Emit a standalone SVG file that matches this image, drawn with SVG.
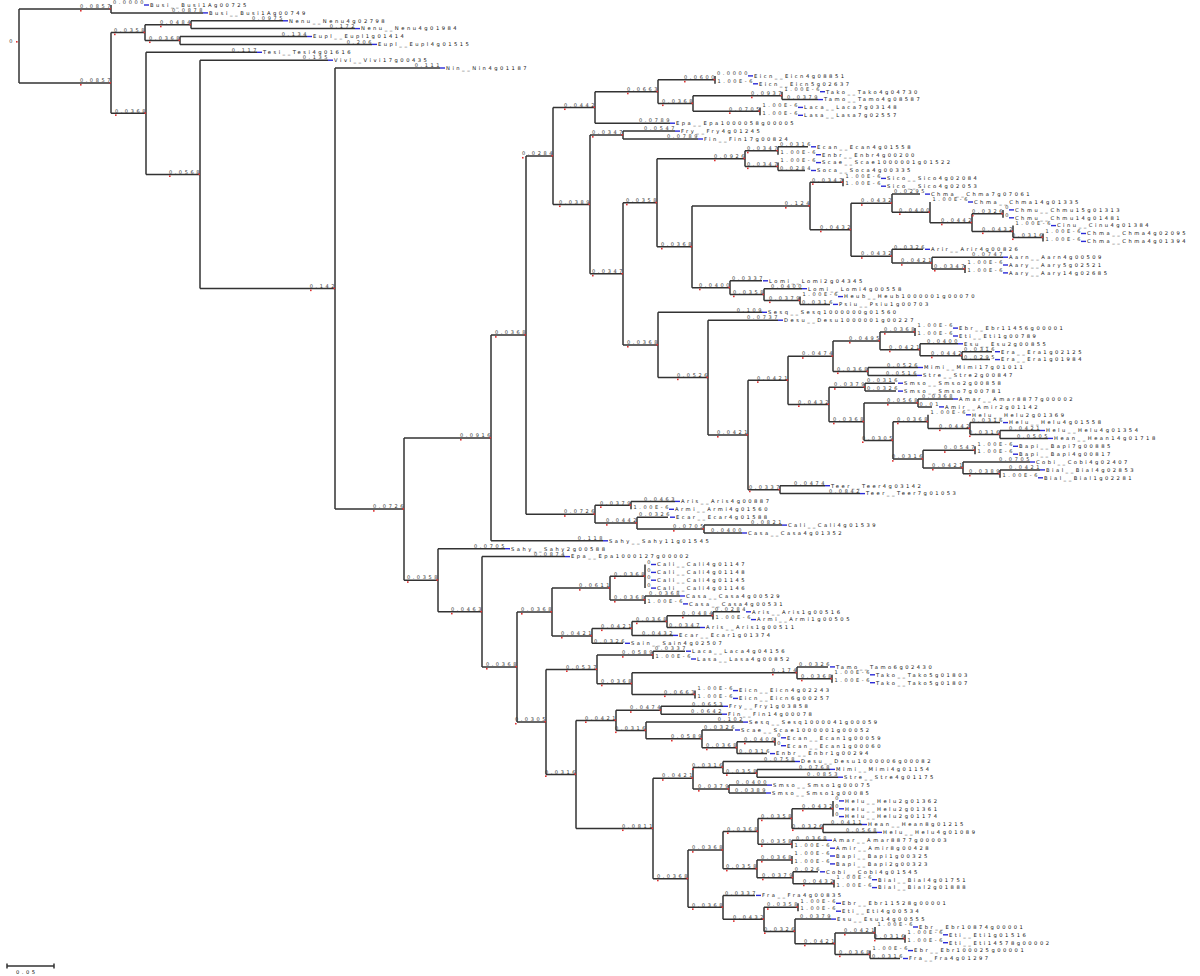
<svg xmlns="http://www.w3.org/2000/svg" xmlns:xlink="http://www.w3.org/1999/xlink" width="1200" height="976" viewBox="0 0 1200 976">
<style>
.c path{fill:none;stroke:#333;stroke-width:1.5}
.b{font-family:"DejaVu Sans","Liberation Sans",sans-serif;font-size:5px;letter-spacing:2.6px;fill:#333;text-anchor:end}
.n{font-family:"DejaVu Sans","Liberation Sans",sans-serif;font-size:5.2px;letter-spacing:2.5px;fill:#111}
</style>
<defs>
<path id="dash" d="M0 0h5" stroke="#2a2ad6" stroke-width="1.4"/>
<rect id="rd" width="1.6" height="1.6" fill="#d33"/>
</defs>
<rect width="1200" height="976" fill="#fff"/>
<g id="connectors" class="c">
<path d="M19 8.95V83"/>
<path d="M19 8.95H111M111 5V12.9"/>
<path d="M19 83H111M111 32.6V113.35"/>
<path d="M111 32.6H145M145 24.7V40.45"/>
<path d="M145 24.7H191M191 20.8V28.6"/>
<path d="M145 40.45H180M180 36.5V44.4"/>
<path d="M111 113.35H146M146 52.3V174.4"/>
<path d="M146 174.4H200M200 60.2V288.55"/>
<path d="M200 288.55H335M335 68V509.1"/>
<path d="M335 509.1H404M404 437.95V580.25"/>
<path d="M404 437.95H491M491 335.1V540.8"/>
<path d="M491 335.1H526M526 155.95V514.2"/>
<path d="M526 155.95H553M553 107.45V204.45"/>
<path d="M553 107.45H595M595 91.7V123.2"/>
<path d="M595 91.7H658M658 79.85V103.5"/>
<path d="M658 79.85H715M715 75.9V83.8"/>
<path d="M658 103.5H693M693 95.65V111.35"/>
<path d="M693 95.65H782M782 91.7V99.6"/>
<path d="M693 111.35H760M760 107.4V115.3"/>
<path d="M553 204.45H590M590 135.05V273.85"/>
<path d="M590 135.05H623M623 131.1V139"/>
<path d="M590 273.85H623M623 202.75V344.95"/>
<path d="M623 202.75H657M657 158.65V246.85"/>
<path d="M657 158.65H745M745 150.75V166.55"/>
<path d="M745 150.75H778M778 146.8V154.7"/>
<path d="M745 166.55H778M778 162.6V170.5"/>
<path d="M657 246.85H692M692 206V287.7"/>
<path d="M692 206H810M810 182.3V229.7"/>
<path d="M810 182.3H843M843 178.4V186.2"/>
<path d="M810 229.7H851M851 203.2V256.2"/>
<path d="M851 203.2H892M892 194.1V212.35"/>
<path d="M892 212.35H930M930 202V222.7"/>
<path d="M930 222.7H972M972 213.85V231.5"/>
<path d="M972 213.85H1003M1003 209.9V217.8"/>
<path d="M972 231.5H1013M1013 225.6V237.45"/>
<path d="M1013 237.45H1043M1043 233.5V241.4"/>
<path d="M851 256.2H892M892 249.3V263.1"/>
<path d="M892 263.1H932M932 257.2V268.95"/>
<path d="M932 268.95H965M965 265V272.9"/>
<path d="M692 287.7H730M730 280.8V294.6"/>
<path d="M730 294.6H764M764 288.7V300.5"/>
<path d="M764 300.5H800M800 296.6V304.4"/>
<path d="M623 344.95H658M658 312.3V377.6"/>
<path d="M658 377.6H708M708 320.2V435"/>
<path d="M708 435H748M748 380.3V489.65"/>
<path d="M748 380.3H788M788 356.2V404.4"/>
<path d="M788 356.2H833M833 340.9V371.45"/>
<path d="M833 340.9H880M880 332.05V349.7"/>
<path d="M880 332.05H915M915 328.1V336"/>
<path d="M880 349.7H920M920 343.8V355.65"/>
<path d="M920 355.65H962M962 351.7V359.6"/>
<path d="M833 371.45H868M868 367.5V375.4"/>
<path d="M788 404.4H829M829 387.15V421.7"/>
<path d="M829 387.15H865M865 383.2V391.1"/>
<path d="M829 421.7H864M864 402.95V440.4"/>
<path d="M864 402.95H918M918 399V406.9"/>
<path d="M864 440.4H893M893 421.65V459.1"/>
<path d="M893 421.65H928M928 414.8V428.5"/>
<path d="M928 428.5H970M970 422.6V434.45"/>
<path d="M970 434.45H1000M1000 430.5V438.4"/>
<path d="M893 459.1H923M923 450.25V467.9"/>
<path d="M923 450.25H975M975 446.3V454.2"/>
<path d="M923 467.9H963M963 462V473.85"/>
<path d="M963 473.85H1000M1000 469.9V477.8"/>
<path d="M748 489.65H780M780 485.7V493.6"/>
<path d="M526 514.2H595M595 505.35V523.1"/>
<path d="M595 505.35H631M631 501.4V509.3"/>
<path d="M595 523.1H637M637 517.2V529.05"/>
<path d="M637 529.05H704M704 525.1V533"/>
<path d="M404 580.25H438M438 548.7V611.8"/>
<path d="M438 611.8H482M482 556.6V666.95"/>
<path d="M482 666.95H517M517 612V721.9"/>
<path d="M517 612H552M552 588.1V635.9"/>
<path d="M552 588.1H610M610 576.3V599.95"/>
<path d="M610 576.3H645M645 564.5V588.1"/>
<path d="M610 599.95H645M645 596V603.9"/>
<path d="M552 635.9H592M592 628.5V643.3"/>
<path d="M592 628.5H632M632 621.6V635.4"/>
<path d="M632 621.6H667M667 615.7V627.5"/>
<path d="M667 615.7H713M713 611.8V619.6"/>
<path d="M517 721.9H546M546 669.4V774.4"/>
<path d="M546 669.4H597M597 655.1V683.65"/>
<path d="M597 655.1H653M653 651.2V659"/>
<path d="M597 683.65H632M632 672.8V694.5"/>
<path d="M632 672.8H797M797 666.9V678.75"/>
<path d="M797 678.75H832M832 674.8V682.7"/>
<path d="M632 694.5H695M695 690.6V698.4"/>
<path d="M546 774.4H576M576 720.4V828.45"/>
<path d="M576 720.4H616M616 710.25V730.5"/>
<path d="M616 710.25H661M661 706.3V714.2"/>
<path d="M616 730.5H646M646 722.1V738.85"/>
<path d="M646 738.85H702M702 730V747.7"/>
<path d="M702 747.7H737M737 741.75V753.6"/>
<path d="M737 741.75H775M775 737.8V745.7"/>
<path d="M576 828.45H653M653 778.2V878.7"/>
<path d="M653 778.2H693M693 767.4V789.05"/>
<path d="M693 767.4H723M723 761.5V773.3"/>
<path d="M723 773.3H757M757 769.4V777.2"/>
<path d="M693 789.05H729M729 785.1V793"/>
<path d="M653 878.7H688M688 850.1V907.35"/>
<path d="M688 850.1H723M723 831.4V868.8"/>
<path d="M723 831.4H758M758 818.6V844.25"/>
<path d="M758 818.6H792M792 808.75V828.45"/>
<path d="M792 808.75H833M833 800.9V816.6"/>
<path d="M792 828.45H823M823 824.5V832.4"/>
<path d="M758 844.25H792M792 840.3V848.2"/>
<path d="M723 868.8H757M757 859.95V877.7"/>
<path d="M757 859.95H792M792 856V863.9"/>
<path d="M757 877.7H793M793 871.8V883.65"/>
<path d="M793 883.65H834M834 879.7V887.6"/>
<path d="M688 907.35H723M723 895.4V919.3"/>
<path d="M723 919.3H764M764 907.25V931.4"/>
<path d="M764 907.25H798M798 903.3V911.2"/>
<path d="M764 931.4H795M795 919.1V943.7"/>
<path d="M795 943.7H835M835 932.9V954.55"/>
<path d="M835 932.9H875M875 927V938.75"/>
<path d="M875 938.75H905M905 934.8V942.7"/>
<path d="M835 954.55H870M870 950.6V958.5"/>
<path d="M111 12.9H203M191 20.8H283M191 28.6H355M180 36.5H307M180 44.4H372M146 52.3H257M200 60.2H328M335 68H440"/>
<path d="M782 99.6H818M595 123.2H670M623 131.1H675M623 139H698M778 146.8H808M778 170.5H805M892 194.1H920"/>
<path d="M892 249.3H923M932 257.2H1003M730 280.8H762M764 288.7H802M800 304.4H830M658 312.3H762M708 320.2H778"/>
<path d="M920 343.8H958M962 351.7H992M962 359.6H990M868 367.5H918M868 375.4H917M865 383.2H895M865 391.1H896M918 399H953M918 406.9H932"/>
<path d="M970 422.6H1000M1000 430.5H1040M1000 438.4H1048M963 462H1030M1000 469.9H1040M780 485.7H825M780 493.6H860"/>
<path d="M631 501.4H675M637 517.2H668M704 525.1H782M704 533H742M491 540.8H603M438 548.7H505M482 556.6H565"/>
<path d="M645 596H680M713 611.8H740M667 627.5H700M632 635.4H673M592 643.3H623M653 651.2H685M797 666.9H828"/>
<path d="M661 706.3H723M661 714.2H722M646 722.1H743M702 730H733M737 753.6H767M723 761.5H795M757 769.4H830M757 777.2H838M729 785.1H767M729 793H766"/>
<path d="M823 824.5H862M823 832.4H877M792 840.3H827M793 871.8H818M723 895.4H755M795 919.1H831M870 958.5H900"/>
<path d="M7 966H54M7 963.5V968.5M54 963.5V968.5"/>
</g>
<g id="internal-nodes">
<g id="n-root"><text class="b" x="15" y="43">0</text><use href="#rd" x="16" y="41"/></g>
<g id="n-A" transform="translate(111,8.95)"><text class="b" x="2" y="-.8">0.0857</text><use href="#rd" x="-31" y="1"/><use href="#rd" x="-1.6" y="-1"/></g>
<g id="n-B" transform="translate(111,83)"><text class="b" x="2" y="-.8">0.0857</text><use href="#rd" x="-31" y="1"/><use href="#rd" x="-1.6" y="-1"/></g>
<g id="n-C" transform="translate(145,32.6)"><text class="b" x="2" y="-.8">0.0358</text><use href="#rd" x="-31" y="1"/><use href="#rd" x="-1.6" y="-1"/></g>
<g id="n-C1" transform="translate(191,24.7)"><text class="b" x="2" y="-.8">0.0484</text><use href="#rd" x="-31" y="1"/><use href="#rd" x="-1.6" y="-1"/></g>
<g id="n-C2" transform="translate(180,40.45)"><text class="b" x="2" y="-.8">0.0368</text><use href="#rd" x="-31" y="1"/><use href="#rd" x="-1.6" y="-1"/></g>
<g id="n-D" transform="translate(146,113.35)"><text class="b" x="2" y="-.8">0.0368</text><use href="#rd" x="-31" y="1"/><use href="#rd" x="-1.6" y="-1"/></g>
<g id="n-E" transform="translate(200,174.4)"><text class="b" x="2" y="-.8">0.0568</text><use href="#rd" x="-31" y="1"/><use href="#rd" x="-1.6" y="-1"/></g>
<g id="n-F" transform="translate(335,288.55)"><text class="b" x="2" y="-.8">0.142</text><use href="#rd" x="-25" y="1"/><use href="#rd" x="-1.6" y="-1"/></g>
<g id="n-G" transform="translate(404,509.1)"><text class="b" x="2" y="-.8">0.0726</text><use href="#rd" x="-31" y="1"/><use href="#rd" x="-1.6" y="-1"/></g>
<g id="n-H" transform="translate(491,437.95)"><text class="b" x="2" y="-.8">0.0916</text><use href="#rd" x="-31" y="1"/><use href="#rd" x="-1.6" y="-1"/></g>
<g id="n-I" transform="translate(526,335.1)"><text class="b" x="2" y="-.8">0.0368</text><use href="#rd" x="-31" y="1"/><use href="#rd" x="-1.6" y="-1"/></g>
<g id="n-J" transform="translate(553,155.95)"><text class="b" x="2" y="-.8">0.0284</text><use href="#rd" x="-31" y="1"/><use href="#rd" x="-1.6" y="-1"/></g>
<g id="n-J1" transform="translate(595,107.45)"><text class="b" x="2" y="-.8">0.0442</text><use href="#rd" x="-31" y="1"/><use href="#rd" x="-1.6" y="-1"/></g>
<g id="n-J1a" transform="translate(658,91.7)"><text class="b" x="2" y="-.8">0.0663</text><use href="#rd" x="-31" y="1"/><use href="#rd" x="-1.6" y="-1"/></g>
<g id="n-J1a1" transform="translate(715,79.85)"><text class="b" x="2" y="-.8">0.0600</text><use href="#rd" x="-31" y="1"/><use href="#rd" x="-1.6" y="-1"/></g>
<g id="n-J1a2" transform="translate(693,103.5)"><text class="b" x="2" y="-.8">0.0368</text><use href="#rd" x="-31" y="1"/><use href="#rd" x="-1.6" y="-1"/></g>
<g id="n-J1a3" transform="translate(782,95.65)"><text class="b" x="2" y="-.8">0.0937</text><use href="#rd" x="-31" y="1"/><use href="#rd" x="-1.6" y="-1"/></g>
<g id="n-J1a4" transform="translate(760,111.35)"><text class="b" x="2" y="-.8">0.0705</text><use href="#rd" x="-31" y="1"/><use href="#rd" x="-1.6" y="-1"/></g>
<g id="n-J2" transform="translate(590,204.45)"><text class="b" x="2" y="-.8">0.0389</text><use href="#rd" x="-31" y="1"/><use href="#rd" x="-1.6" y="-1"/></g>
<g id="n-J2a" transform="translate(623,135.05)"><text class="b" x="2" y="-.8">0.0347</text><use href="#rd" x="-31" y="1"/><use href="#rd" x="-1.6" y="-1"/></g>
<g id="n-NX" transform="translate(623,273.85)"><text class="b" x="2" y="-.8">0.0347</text><use href="#rd" x="-31" y="1"/><use href="#rd" x="-1.6" y="-1"/></g>
<g id="n-NA" transform="translate(657,202.75)"><text class="b" x="2" y="-.8">0.0358</text><use href="#rd" x="-31" y="1"/><use href="#rd" x="-1.6" y="-1"/></g>
<g id="n-NB" transform="translate(745,158.65)"><text class="b" x="2" y="-.8">0.0926</text><use href="#rd" x="-31" y="1"/><use href="#rd" x="-1.6" y="-1"/></g>
<g id="n-NB1" transform="translate(778,150.75)"><text class="b" x="2" y="-.8">0.0347</text><use href="#rd" x="-31" y="1"/><use href="#rd" x="-1.6" y="-1"/></g>
<g id="n-NB2" transform="translate(778,166.55)"><text class="b" x="2" y="-.8">0.0347</text><use href="#rd" x="-31" y="1"/><use href="#rd" x="-1.6" y="-1"/></g>
<g id="n-NC" transform="translate(692,246.85)"><text class="b" x="2" y="-.8">0.0368</text><use href="#rd" x="-31" y="1"/><use href="#rd" x="-1.6" y="-1"/></g>
<g id="n-ND" transform="translate(810,206)"><text class="b" x="2" y="-.8">0.124</text><use href="#rd" x="-25" y="1"/><use href="#rd" x="-1.6" y="-1"/></g>
<g id="n-NE" transform="translate(843,182.3)"><text class="b" x="2" y="-.8">0.0347</text><use href="#rd" x="-31" y="1"/><use href="#rd" x="-1.6" y="-1"/></g>
<g id="n-NF" transform="translate(851,229.7)"><text class="b" x="2" y="-.8">0.0432</text><use href="#rd" x="-31" y="1"/><use href="#rd" x="-1.6" y="-1"/></g>
<g id="n-NG" transform="translate(892,203.2)"><text class="b" x="2" y="-.8">0.0432</text><use href="#rd" x="-31" y="1"/><use href="#rd" x="-1.6" y="-1"/></g>
<g id="n-NH" transform="translate(930,212.35)"><text class="b" x="2" y="-.8">0.0400</text><use href="#rd" x="-31" y="1"/><use href="#rd" x="-1.6" y="-1"/></g>
<g id="n-NI" transform="translate(972,222.7)"><text class="b" x="2" y="-.8">0.0442</text><use href="#rd" x="-31" y="1"/><use href="#rd" x="-1.6" y="-1"/></g>
<g id="n-NJ" transform="translate(1003,213.85)"><text class="b" x="2" y="-.8">0.0326</text><use href="#rd" x="-31" y="1"/><use href="#rd" x="-1.6" y="-1"/></g>
<g id="n-NK" transform="translate(1013,231.5)"><text class="b" x="2" y="-.8">0.0432</text><use href="#rd" x="-31" y="1"/><use href="#rd" x="-1.6" y="-1"/></g>
<g id="n-NL" transform="translate(1043,237.45)"><text class="b" x="2" y="-.8">0.0316</text><use href="#rd" x="-31" y="1"/><use href="#rd" x="-1.6" y="-1"/></g>
<g id="n-NM" transform="translate(892,256.2)"><text class="b" x="2" y="-.8">0.0432</text><use href="#rd" x="-31" y="1"/><use href="#rd" x="-1.6" y="-1"/></g>
<g id="n-NN" transform="translate(932,263.1)"><text class="b" x="2" y="-.8">0.0421</text><use href="#rd" x="-31" y="1"/><use href="#rd" x="-1.6" y="-1"/></g>
<g id="n-NO" transform="translate(965,268.95)"><text class="b" x="2" y="-.8">0.0347</text><use href="#rd" x="-31" y="1"/><use href="#rd" x="-1.6" y="-1"/></g>
<g id="n-NP" transform="translate(730,287.7)"><text class="b" x="2" y="-.8">0.0400</text><use href="#rd" x="-31" y="1"/><use href="#rd" x="-1.6" y="-1"/></g>
<g id="n-NQ" transform="translate(764,294.6)"><text class="b" x="2" y="-.8">0.0358</text><use href="#rd" x="-31" y="1"/><use href="#rd" x="-1.6" y="-1"/></g>
<g id="n-NR" transform="translate(800,300.5)"><text class="b" x="2" y="-.8">0.0379</text><use href="#rd" x="-31" y="1"/><use href="#rd" x="-1.6" y="-1"/></g>
<g id="n-S0" transform="translate(658,344.95)"><text class="b" x="2" y="-.8">0.0368</text><use href="#rd" x="-31" y="1"/><use href="#rd" x="-1.6" y="-1"/></g>
<g id="n-P1" transform="translate(708,377.6)"><text class="b" x="2" y="-.8">0.0526</text><use href="#rd" x="-31" y="1"/><use href="#rd" x="-1.6" y="-1"/></g>
<g id="n-P2" transform="translate(748,435)"><text class="b" x="2" y="-.8">0.0421</text><use href="#rd" x="-31" y="1"/><use href="#rd" x="-1.6" y="-1"/></g>
<g id="n-P3" transform="translate(788,380.3)"><text class="b" x="2" y="-.8">0.0421</text><use href="#rd" x="-31" y="1"/><use href="#rd" x="-1.6" y="-1"/></g>
<g id="n-P4" transform="translate(833,356.2)"><text class="b" x="2" y="-.8">0.0474</text><use href="#rd" x="-31" y="1"/><use href="#rd" x="-1.6" y="-1"/></g>
<g id="n-P5" transform="translate(880,340.9)"><text class="b" x="2" y="-.8">0.0495</text><use href="#rd" x="-31" y="1"/><use href="#rd" x="-1.6" y="-1"/></g>
<g id="n-P6" transform="translate(915,332.05)"><text class="b" x="2" y="-.8">0.0368</text><use href="#rd" x="-31" y="1"/><use href="#rd" x="-1.6" y="-1"/></g>
<g id="n-P7" transform="translate(920,349.7)"><text class="b" x="2" y="-.8">0.0421</text><use href="#rd" x="-31" y="1"/><use href="#rd" x="-1.6" y="-1"/></g>
<g id="n-P8" transform="translate(962,355.65)"><text class="b" x="2" y="-.8">0.0442</text><use href="#rd" x="-31" y="1"/><use href="#rd" x="-1.6" y="-1"/></g>
<g id="n-P9" transform="translate(868,371.45)"><text class="b" x="2" y="-.8">0.0368</text><use href="#rd" x="-31" y="1"/><use href="#rd" x="-1.6" y="-1"/></g>
<g id="n-P10" transform="translate(829,404.4)"><text class="b" x="2" y="-.8">0.0432</text><use href="#rd" x="-31" y="1"/><use href="#rd" x="-1.6" y="-1"/></g>
<g id="n-PS" transform="translate(865,387.15)"><text class="b" x="2" y="-.8">0.0379</text><use href="#rd" x="-31" y="1"/><use href="#rd" x="-1.6" y="-1"/></g>
<g id="n-Q1" transform="translate(864,421.7)"><text class="b" x="2" y="-.8">0.0368</text><use href="#rd" x="-31" y="1"/><use href="#rd" x="-1.6" y="-1"/></g>
<g id="n-Q2" transform="translate(918,402.95)"><text class="b" x="2" y="-.8">0.0568</text><use href="#rd" x="-31" y="1"/><use href="#rd" x="-1.6" y="-1"/></g>
<g id="n-Q3" transform="translate(893,440.4)"><text class="b" x="2" y="-.8">0.0305</text><use href="#rd" x="-31" y="1"/><use href="#rd" x="-1.6" y="-1"/></g>
<g id="n-Q4" transform="translate(928,421.65)"><text class="b" x="2" y="-.8">0.0368</text><use href="#rd" x="-31" y="1"/><use href="#rd" x="-1.6" y="-1"/></g>
<g id="n-Q6" transform="translate(970,428.5)"><text class="b" x="2" y="-.8">0.0442</text><use href="#rd" x="-31" y="1"/><use href="#rd" x="-1.6" y="-1"/></g>
<g id="n-Q6b" transform="translate(1000,434.45)"><text class="b" x="2" y="-.8">0.0316</text><use href="#rd" x="-31" y="1"/><use href="#rd" x="-1.6" y="-1"/></g>
<g id="n-Q7" transform="translate(923,459.1)"><text class="b" x="2" y="-.8">0.0316</text><use href="#rd" x="-31" y="1"/><use href="#rd" x="-1.6" y="-1"/></g>
<g id="n-QB" transform="translate(975,450.25)"><text class="b" x="2" y="-.8">0.0547</text><use href="#rd" x="-31" y="1"/><use href="#rd" x="-1.6" y="-1"/></g>
<g id="n-R1" transform="translate(963,467.9)"><text class="b" x="2" y="-.8">0.0421</text><use href="#rd" x="-31" y="1"/><use href="#rd" x="-1.6" y="-1"/></g>
<g id="n-RB" transform="translate(1000,473.85)"><text class="b" x="2" y="-.8">0.0389</text><use href="#rd" x="-31" y="1"/><use href="#rd" x="-1.6" y="-1"/></g>
<g id="n-PT" transform="translate(780,489.65)"><text class="b" x="2" y="-.8">0.0337</text><use href="#rd" x="-31" y="1"/><use href="#rd" x="-1.6" y="-1"/></g>
<g id="n-K" transform="translate(595,514.2)"><text class="b" x="2" y="-.8">0.0726</text><use href="#rd" x="-31" y="1"/><use href="#rd" x="-1.6" y="-1"/></g>
<g id="n-K1" transform="translate(631,505.35)"><text class="b" x="2" y="-.8">0.0379</text><use href="#rd" x="-31" y="1"/><use href="#rd" x="-1.6" y="-1"/></g>
<g id="n-K2" transform="translate(637,523.1)"><text class="b" x="2" y="-.8">0.0442</text><use href="#rd" x="-31" y="1"/><use href="#rd" x="-1.6" y="-1"/></g>
<g id="n-K3" transform="translate(704,529.05)"><text class="b" x="2" y="-.8">0.0705</text><use href="#rd" x="-31" y="1"/><use href="#rd" x="-1.6" y="-1"/></g>
<g id="n-Ln" transform="translate(438,580.25)"><text class="b" x="2" y="-.8">0.0358</text><use href="#rd" x="-31" y="1"/><use href="#rd" x="-1.6" y="-1"/></g>
<g id="n-M" transform="translate(482,611.8)"><text class="b" x="2" y="-.8">0.0463</text><use href="#rd" x="-31" y="1"/><use href="#rd" x="-1.6" y="-1"/></g>
<g id="n-N" transform="translate(517,666.95)"><text class="b" x="2" y="-.8">0.0368</text><use href="#rd" x="-31" y="1"/><use href="#rd" x="-1.6" y="-1"/></g>
<g id="n-O" transform="translate(552,612)"><text class="b" x="2" y="-.8">0.0368</text><use href="#rd" x="-31" y="1"/><use href="#rd" x="-1.6" y="-1"/></g>
<g id="n-P" transform="translate(610,588.1)"><text class="b" x="2" y="-.8">0.0611</text><use href="#rd" x="-31" y="1"/><use href="#rd" x="-1.6" y="-1"/></g>
<g id="n-Q" transform="translate(645,576.3)"><text class="b" x="2" y="-.8">0.0368</text><use href="#rd" x="-31" y="1"/><use href="#rd" x="-1.6" y="-1"/></g>
<g id="n-R" transform="translate(645,599.95)"><text class="b" x="2" y="-.8">0.0368</text><use href="#rd" x="-31" y="1"/><use href="#rd" x="-1.6" y="-1"/></g>
<g id="n-S" transform="translate(592,635.9)"><text class="b" x="2" y="-.8">0.0421</text><use href="#rd" x="-31" y="1"/><use href="#rd" x="-1.6" y="-1"/></g>
<g id="n-S1" transform="translate(632,628.5)"><text class="b" x="2" y="-.8">0.0421</text><use href="#rd" x="-31" y="1"/><use href="#rd" x="-1.6" y="-1"/></g>
<g id="n-S2" transform="translate(667,621.6)"><text class="b" x="2" y="-.8">0.0368</text><use href="#rd" x="-31" y="1"/><use href="#rd" x="-1.6" y="-1"/></g>
<g id="n-S3" transform="translate(713,615.7)"><text class="b" x="2" y="-.8">0.0484</text><use href="#rd" x="-31" y="1"/><use href="#rd" x="-1.6" y="-1"/></g>
<g id="n-T" transform="translate(546,721.9)"><text class="b" x="2" y="-.8">0.0305</text><use href="#rd" x="-31" y="1"/><use href="#rd" x="-1.6" y="-1"/></g>
<g id="n-U" transform="translate(597,669.4)"><text class="b" x="2" y="-.8">0.0537</text><use href="#rd" x="-31" y="1"/><use href="#rd" x="-1.6" y="-1"/></g>
<g id="n-U1" transform="translate(653,655.1)"><text class="b" x="2" y="-.8">0.0589</text><use href="#rd" x="-31" y="1"/><use href="#rd" x="-1.6" y="-1"/></g>
<g id="n-U2" transform="translate(632,683.65)"><text class="b" x="2" y="-.8">0.0368</text><use href="#rd" x="-31" y="1"/><use href="#rd" x="-1.6" y="-1"/></g>
<g id="n-U3" transform="translate(797,672.8)"><text class="b" x="2" y="-.8">0.174</text><use href="#rd" x="-25" y="1"/><use href="#rd" x="-1.6" y="-1"/></g>
<g id="n-U4" transform="translate(832,678.75)"><text class="b" x="2" y="-.8">0.0368</text><use href="#rd" x="-31" y="1"/><use href="#rd" x="-1.6" y="-1"/></g>
<g id="n-U5" transform="translate(695,694.5)"><text class="b" x="2" y="-.8">0.0663</text><use href="#rd" x="-31" y="1"/><use href="#rd" x="-1.6" y="-1"/></g>
<g id="n-V" transform="translate(576,774.4)"><text class="b" x="2" y="-.8">0.0316</text><use href="#rd" x="-31" y="1"/><use href="#rd" x="-1.6" y="-1"/></g>
<g id="n-W" transform="translate(616,720.4)"><text class="b" x="2" y="-.8">0.0421</text><use href="#rd" x="-31" y="1"/><use href="#rd" x="-1.6" y="-1"/></g>
<g id="n-W1" transform="translate(661,710.25)"><text class="b" x="2" y="-.8">0.0474</text><use href="#rd" x="-31" y="1"/><use href="#rd" x="-1.6" y="-1"/></g>
<g id="n-W2" transform="translate(646,730.5)"><text class="b" x="2" y="-.8">0.0316</text><use href="#rd" x="-31" y="1"/><use href="#rd" x="-1.6" y="-1"/></g>
<g id="n-W3" transform="translate(702,738.85)"><text class="b" x="2" y="-.8">0.0589</text><use href="#rd" x="-31" y="1"/><use href="#rd" x="-1.6" y="-1"/></g>
<g id="n-W4" transform="translate(737,747.7)"><text class="b" x="2" y="-.8">0.0368</text><use href="#rd" x="-31" y="1"/><use href="#rd" x="-1.6" y="-1"/></g>
<g id="n-W5" transform="translate(775,741.75)"><text class="b" x="2" y="-.8">0.0400</text><use href="#rd" x="-31" y="1"/><use href="#rd" x="-1.6" y="-1"/></g>
<g id="n-X" transform="translate(653,828.45)"><text class="b" x="2" y="-.8">0.0811</text><use href="#rd" x="-31" y="1"/><use href="#rd" x="-1.6" y="-1"/></g>
<g id="n-Y" transform="translate(693,778.2)"><text class="b" x="2" y="-.8">0.0421</text><use href="#rd" x="-31" y="1"/><use href="#rd" x="-1.6" y="-1"/></g>
<g id="n-Y1" transform="translate(723,767.4)"><text class="b" x="2" y="-.8">0.0316</text><use href="#rd" x="-31" y="1"/><use href="#rd" x="-1.6" y="-1"/></g>
<g id="n-Y2" transform="translate(757,773.3)"><text class="b" x="2" y="-.8">0.0358</text><use href="#rd" x="-31" y="1"/><use href="#rd" x="-1.6" y="-1"/></g>
<g id="n-Y3" transform="translate(729,789.05)"><text class="b" x="2" y="-.8">0.0379</text><use href="#rd" x="-31" y="1"/><use href="#rd" x="-1.6" y="-1"/></g>
<g id="n-Z" transform="translate(688,878.7)"><text class="b" x="2" y="-.8">0.0368</text><use href="#rd" x="-31" y="1"/><use href="#rd" x="-1.6" y="-1"/></g>
<g id="n-Z1" transform="translate(723,850.1)"><text class="b" x="2" y="-.8">0.0368</text><use href="#rd" x="-31" y="1"/><use href="#rd" x="-1.6" y="-1"/></g>
<g id="n-Z3" transform="translate(758,831.4)"><text class="b" x="2" y="-.8">0.0368</text><use href="#rd" x="-31" y="1"/><use href="#rd" x="-1.6" y="-1"/></g>
<g id="n-Z5" transform="translate(792,818.6)"><text class="b" x="2" y="-.8">0.0358</text><use href="#rd" x="-31" y="1"/><use href="#rd" x="-1.6" y="-1"/></g>
<g id="n-Z7" transform="translate(833,808.75)"><text class="b" x="2" y="-.8">0.0432</text><use href="#rd" x="-31" y="1"/><use href="#rd" x="-1.6" y="-1"/></g>
<g id="n-Z8" transform="translate(823,828.45)"><text class="b" x="2" y="-.8">0.0326</text><use href="#rd" x="-31" y="1"/><use href="#rd" x="-1.6" y="-1"/></g>
<g id="n-Z6" transform="translate(792,844.25)"><text class="b" x="2" y="-.8">0.0358</text><use href="#rd" x="-31" y="1"/><use href="#rd" x="-1.6" y="-1"/></g>
<g id="n-Z4" transform="translate(757,868.8)"><text class="b" x="2" y="-.8">0.0358</text><use href="#rd" x="-31" y="1"/><use href="#rd" x="-1.6" y="-1"/></g>
<g id="n-Z9" transform="translate(792,859.95)"><text class="b" x="2" y="-.8">0.0368</text><use href="#rd" x="-31" y="1"/><use href="#rd" x="-1.6" y="-1"/></g>
<g id="n-Z10" transform="translate(793,877.7)"><text class="b" x="2" y="-.8">0.0379</text><use href="#rd" x="-31" y="1"/><use href="#rd" x="-1.6" y="-1"/></g>
<g id="n-Z11" transform="translate(834,883.65)"><text class="b" x="2" y="-.8">0.0432</text><use href="#rd" x="-31" y="1"/><use href="#rd" x="-1.6" y="-1"/></g>
<g id="n-Z2" transform="translate(723,907.35)"><text class="b" x="2" y="-.8">0.0368</text><use href="#rd" x="-31" y="1"/><use href="#rd" x="-1.6" y="-1"/></g>
<g id="n-Z12" transform="translate(764,919.3)"><text class="b" x="2" y="-.8">0.0432</text><use href="#rd" x="-31" y="1"/><use href="#rd" x="-1.6" y="-1"/></g>
<g id="n-Z13" transform="translate(798,907.25)"><text class="b" x="2" y="-.8">0.0358</text><use href="#rd" x="-31" y="1"/><use href="#rd" x="-1.6" y="-1"/></g>
<g id="n-Z14" transform="translate(795,931.4)"><text class="b" x="2" y="-.8">0.0326</text><use href="#rd" x="-31" y="1"/><use href="#rd" x="-1.6" y="-1"/></g>
<g id="n-Z15" transform="translate(835,943.7)"><text class="b" x="2" y="-.8">0.0421</text><use href="#rd" x="-31" y="1"/><use href="#rd" x="-1.6" y="-1"/></g>
<g id="n-Z16" transform="translate(875,932.9)"><text class="b" x="2" y="-.8">0.0421</text><use href="#rd" x="-31" y="1"/><use href="#rd" x="-1.6" y="-1"/></g>
<g id="n-Z17" transform="translate(905,938.75)"><text class="b" x="2" y="-.8">0.0316</text><use href="#rd" x="-31" y="1"/><use href="#rd" x="-1.6" y="-1"/></g>
<g id="n-Z18" transform="translate(870,954.55)"><text class="b" x="2" y="-.8">0.0368</text><use href="#rd" x="-31" y="1"/><use href="#rd" x="-1.6" y="-1"/></g>
</g>
<g id="leaves">
<g id="L0" transform="translate(144,5)"><text class="b" x="2" y="-.8">0.0000</text><use href="#dash"/><text class="n" x="6" y="1.8">Busi__Busi1Ag00725</text></g>
<g id="L1" transform="translate(203,12.9)"><text class="b" x="2" y="-.8">0.0878</text><use href="#dash"/><text class="n" x="6" y="1.8">Busi__Busi1Ag00749</text></g>
<g id="L2" transform="translate(283,20.8)"><text class="b" x="2" y="-.8">0.0975</text><use href="#dash"/><text class="n" x="6" y="1.8">Nenu__Nenu4g02798</text></g>
<g id="L3" transform="translate(355,28.6)"><text class="b" x="2" y="-.8">0.172</text><use href="#dash"/><text class="n" x="6" y="1.8">Nenu__Nenu4g01984</text></g>
<g id="L4" transform="translate(307,36.5)"><text class="b" x="2" y="-.8">0.134</text><use href="#dash"/><text class="n" x="6" y="1.8">Eupl__Eupl1g01414</text></g>
<g id="L5" transform="translate(372,44.4)"><text class="b" x="2" y="-.8">0.206</text><use href="#dash"/><text class="n" x="6" y="1.8">Eupl__Eupl4g01515</text></g>
<g id="L6" transform="translate(257,52.3)"><text class="b" x="2" y="-.8">0.117</text><use href="#dash"/><text class="n" x="6" y="1.8">Tesi__Tesi4g01616</text></g>
<g id="L7" transform="translate(328,60.2)"><text class="b" x="2" y="-.8">0.135</text><use href="#dash"/><text class="n" x="6" y="1.8">Vivi__Vivi17g00435</text></g>
<g id="L8" transform="translate(440,68)"><text class="b" x="2" y="-.8">0.111</text><use href="#dash"/><text class="n" x="6" y="1.8">Nin__Nin4g01187</text></g>
<g id="L9" transform="translate(748,75.9)"><text class="b" x="2" y="-.8">0.0000</text><use href="#dash"/><text class="n" x="6" y="1.8">Eicn__Eicn4g08851</text></g>
<g id="L10" transform="translate(753,83.8)"><text class="b" x="2" y="-.8">1.00E-6</text><use href="#dash"/><text class="n" x="6" y="1.8">Eicn__Eicn5g02637</text></g>
<g id="L11" transform="translate(820,91.7)"><text class="b" x="2" y="-.8">1.00E-6</text><use href="#dash"/><text class="n" x="6" y="1.8">Tako__Tako4g04730</text></g>
<g id="L12" transform="translate(818,99.6)"><text class="b" x="2" y="-.8">0.0379</text><use href="#dash"/><text class="n" x="6" y="1.8">Tamo__Tamo4g08587</text></g>
<g id="L13" transform="translate(798,107.4)"><text class="b" x="2" y="-.8">1.00E-6</text><use href="#dash"/><text class="n" x="6" y="1.8">Laca__Laca7g03148</text></g>
<g id="L14" transform="translate(798,115.3)"><text class="b" x="2" y="-.8">1.00E-6</text><use href="#dash"/><text class="n" x="6" y="1.8">Lasa__Lasa7g02557</text></g>
<g id="L15" transform="translate(670,123.2)"><text class="b" x="2" y="-.8">0.0789</text><use href="#dash"/><text class="n" x="6" y="1.8">Epa__Epa1000058g00005</text></g>
<g id="L16" transform="translate(675,131.1)"><text class="b" x="2" y="-.8">0.0547</text><use href="#dash"/><text class="n" x="6" y="1.8">Fry__Fry4g01245</text></g>
<g id="L17" transform="translate(698,139)"><text class="b" x="2" y="-.8">0.0789</text><use href="#dash"/><text class="n" x="6" y="1.8">Fin__Fin17g00824</text></g>
<g id="L18" transform="translate(811,146.8)"><text class="b" x="2" y="-.8">0.0316</text><use href="#dash"/><text class="n" x="6" y="1.8">Ecan__Ecan4g01558</text></g>
<g id="L19" transform="translate(816,154.7)"><text class="b" x="2" y="-.8">1.00E-6</text><use href="#dash"/><text class="n" x="6" y="1.8">Enbr__Enbr4g00200</text></g>
<g id="L20" transform="translate(816,162.6)"><text class="b" x="2" y="-.8">1.00E-6</text><use href="#dash"/><text class="n" x="6" y="1.8">Scae__Scae1000001g01522</text></g>
<g id="L21" transform="translate(811,170.5)"><text class="b" x="2" y="-.8">0.0284</text><use href="#dash"/><text class="n" x="6" y="1.8">Soca__Soca4g00335</text></g>
<g id="L22" transform="translate(881,178.4)"><text class="b" x="2" y="-.8">1.00E-6</text><use href="#dash"/><text class="n" x="6" y="1.8">Sico__Sico4g02084</text></g>
<g id="L23" transform="translate(881,186.2)"><text class="b" x="2" y="-.8">1.00E-6</text><use href="#dash"/><text class="n" x="6" y="1.8">Sico__Sico4g02053</text></g>
<g id="L24" transform="translate(925,194.1)"><text class="b" x="2" y="-.8">0.0295</text><use href="#dash"/><text class="n" x="6" y="1.8">Chma__Chma7g07061</text></g>
<g id="L25" transform="translate(968,202)"><text class="b" x="2" y="-.8">1.00E-6</text><use href="#dash"/><text class="n" x="6" y="1.8">Chma__Chma14g01335</text></g>
<g id="L26" transform="translate(1009,209.9)"><text class="b" x="2" y="-.8">0</text><use href="#dash"/><text class="n" x="6" y="1.8">Chmu__Chmu15g01313</text></g>
<g id="L27" transform="translate(1009,217.8)"><text class="b" x="2" y="-.8">0</text><use href="#dash"/><text class="n" x="6" y="1.8">Chmu__Chmu14g01481</text></g>
<g id="L28" transform="translate(1051,225.6)"><text class="b" x="2" y="-.8">1.00E-6</text><use href="#dash"/><text class="n" x="6" y="1.8">Cinu__Cinu4g01384</text></g>
<g id="L29" transform="translate(1081,233.5)"><text class="b" x="2" y="-.8">1.00E-6</text><use href="#dash"/><text class="n" x="6" y="1.8">Chma__Chma4g02095</text></g>
<g id="L30" transform="translate(1081,241.4)"><text class="b" x="2" y="-.8">1.00E-6</text><use href="#dash"/><text class="n" x="6" y="1.8">Chma__Chma4g01394</text></g>
<g id="L31" transform="translate(925,249.3)"><text class="b" x="2" y="-.8">0.0326</text><use href="#dash"/><text class="n" x="6" y="1.8">Arir__Arir4g00826</text></g>
<g id="L32" transform="translate(1003,257.2)"><text class="b" x="2" y="-.8">0.0747</text><use href="#dash"/><text class="n" x="6" y="1.8">Aarn__Aarn4g00509</text></g>
<g id="L33" transform="translate(1003,265)"><text class="b" x="2" y="-.8">1.00E-6</text><use href="#dash"/><text class="n" x="6" y="1.8">Aary__Aary5g02521</text></g>
<g id="L34" transform="translate(1003,272.9)"><text class="b" x="2" y="-.8">1.00E-6</text><use href="#dash"/><text class="n" x="6" y="1.8">Aary__Aary14g02685</text></g>
<g id="L35" transform="translate(763,280.8)"><text class="b" x="2" y="-.8">0.0337</text><use href="#dash"/><text class="n" x="6" y="1.8">Lomi__Lomi2g04345</text></g>
<g id="L36" transform="translate(802,288.7)"><text class="b" x="2" y="-.8">0.0400</text><use href="#dash"/><text class="n" x="6" y="1.8">Lomi__Lomi4g00558</text></g>
<g id="L37" transform="translate(838,296.6)"><text class="b" x="2" y="-.8">1.00E-6</text><use href="#dash"/><text class="n" x="6" y="1.8">Heub__Heub1000001g00070</text></g>
<g id="L38" transform="translate(833,304.4)"><text class="b" x="2" y="-.8">0.0316</text><use href="#dash"/><text class="n" x="6" y="1.8">Psiu__Psiu1g00703</text></g>
<g id="L39" transform="translate(762,312.3)"><text class="b" x="2" y="-.8">0.109</text><use href="#dash"/><text class="n" x="6" y="1.8">Sesq__Sesq1000000g01560</text></g>
<g id="L40" transform="translate(778,320.2)"><text class="b" x="2" y="-.8">0.0737</text><use href="#dash"/><text class="n" x="6" y="1.8">Desu__Desu1000001g00227</text></g>
<g id="L41" transform="translate(953,328.1)"><text class="b" x="2" y="-.8">1.00E-6</text><use href="#dash"/><text class="n" x="6" y="1.8">Ebr__Ebr11456g00001</text></g>
<g id="L42" transform="translate(953,336)"><text class="b" x="2" y="-.8">1.00E-6</text><use href="#dash"/><text class="n" x="6" y="1.8">Eti__Eti1g00789</text></g>
<g id="L43" transform="translate(958,343.8)"><text class="b" x="2" y="-.8">0.0400</text><use href="#dash"/><text class="n" x="6" y="1.8">Esu__Esu2g00855</text></g>
<g id="L44" transform="translate(995,351.7)"><text class="b" x="2" y="-.8">0.0316</text><use href="#dash"/><text class="n" x="6" y="1.8">Era__Era1g02125</text></g>
<g id="L45" transform="translate(995,359.6)"><text class="b" x="2" y="-.8">0.0295</text><use href="#dash"/><text class="n" x="6" y="1.8">Era__Era1g01984</text></g>
<g id="L46" transform="translate(918,367.5)"><text class="b" x="2" y="-.8">0.0526</text><use href="#dash"/><text class="n" x="6" y="1.8">Mimi__Mimi17g01011</text></g>
<g id="L47" transform="translate(917,375.4)"><text class="b" x="2" y="-.8">0.0516</text><use href="#dash"/><text class="n" x="6" y="1.8">Stre__Stre2g00847</text></g>
<g id="L48" transform="translate(898,383.2)"><text class="b" x="2" y="-.8">0.0316</text><use href="#dash"/><text class="n" x="6" y="1.8">Smso__Smso2g00858</text></g>
<g id="L49" transform="translate(898,391.1)"><text class="b" x="2" y="-.8">0.0326</text><use href="#dash"/><text class="n" x="6" y="1.8">Smso__Smso7g00781</text></g>
<g id="L50" transform="translate(953,399)"><text class="b" x="2" y="-.8">0.0368</text><use href="#dash"/><text class="n" x="6" y="1.8">Amar__Amar8877g00002</text></g>
<g id="L51" transform="translate(939,406.9)"><text class="b" x="2" y="-.8">0.01</text><use href="#dash"/><text class="n" x="6" y="1.8">Amir__Amir2g01142</text></g>
<g id="L52" transform="translate(966,414.8)"><text class="b" x="2" y="-.8">1.00E-6</text><use href="#dash"/><text class="n" x="6" y="1.8">Helu__Helu2g01369</text></g>
<g id="L53" transform="translate(1003,422.6)"><text class="b" x="2" y="-.8">0.0316</text><use href="#dash"/><text class="n" x="6" y="1.8">Helu__Helu4g01558</text></g>
<g id="L54" transform="translate(1040,430.5)"><text class="b" x="2" y="-.8">0.0421</text><use href="#dash"/><text class="n" x="6" y="1.8">Helu__Helu4g01354</text></g>
<g id="L55" transform="translate(1048,438.4)"><text class="b" x="2" y="-.8">0.0505</text><use href="#dash"/><text class="n" x="6" y="1.8">Hean__Hean14g01718</text></g>
<g id="L56" transform="translate(1013,446.3)"><text class="b" x="2" y="-.8">1.00E-6</text><use href="#dash"/><text class="n" x="6" y="1.8">Bapi__Bapi7g00885</text></g>
<g id="L57" transform="translate(1013,454.2)"><text class="b" x="2" y="-.8">1.00E-6</text><use href="#dash"/><text class="n" x="6" y="1.8">Bapi__Bapi4g00817</text></g>
<g id="L58" transform="translate(1030,462)"><text class="b" x="2" y="-.8">0.0705</text><use href="#dash"/><text class="n" x="6" y="1.8">Cobi__Cobi4g02407</text></g>
<g id="L59" transform="translate(1040,469.9)"><text class="b" x="2" y="-.8">0.0421</text><use href="#dash"/><text class="n" x="6" y="1.8">Bial__Bial4g02853</text></g>
<g id="L60" transform="translate(1038,477.8)"><text class="b" x="2" y="-.8">1.00E-6</text><use href="#dash"/><text class="n" x="6" y="1.8">Bial__Bial1g02281</text></g>
<g id="L61" transform="translate(825,485.7)"><text class="b" x="2" y="-.8">0.0474</text><use href="#dash"/><text class="n" x="6" y="1.8">Teer__Teer4g03142</text></g>
<g id="L62" transform="translate(860,493.6)"><text class="b" x="2" y="-.8">0.0842</text><use href="#dash"/><text class="n" x="6" y="1.8">Teer__Teer7g01053</text></g>
<g id="L63" transform="translate(675,501.4)"><text class="b" x="2" y="-.8">0.0463</text><use href="#dash"/><text class="n" x="6" y="1.8">Aris__Aris4g00887</text></g>
<g id="L64" transform="translate(669,509.3)"><text class="b" x="2" y="-.8">1.00E-6</text><use href="#dash"/><text class="n" x="6" y="1.8">Armi__Armi4g01560</text></g>
<g id="L65" transform="translate(670,517.2)"><text class="b" x="2" y="-.8">0.0326</text><use href="#dash"/><text class="n" x="6" y="1.8">Ecar__Ecar4g01588</text></g>
<g id="L66" transform="translate(782,525.1)"><text class="b" x="2" y="-.8">0.0821</text><use href="#dash"/><text class="n" x="6" y="1.8">Cali__Cali4g01539</text></g>
<g id="L67" transform="translate(742,533)"><text class="b" x="2" y="-.8">0.0400</text><use href="#dash"/><text class="n" x="6" y="1.8">Casa__Casa4g01352</text></g>
<g id="L68" transform="translate(603,540.8)"><text class="b" x="2" y="-.8">0.118</text><use href="#dash"/><text class="n" x="6" y="1.8">Sahy__Sahy11g01545</text></g>
<g id="L69" transform="translate(505,548.7)"><text class="b" x="2" y="-.8">0.0705</text><use href="#dash"/><text class="n" x="6" y="1.8">Sahy__Sahy2g00588</text></g>
<g id="L70" transform="translate(565,556.6)"><text class="b" x="2" y="-.8">0.0874</text><use href="#dash"/><text class="n" x="6" y="1.8">Epa__Epa1000127g00002</text></g>
<g id="L71" transform="translate(651,564.5)"><text class="b" x="2" y="-.8">0</text><use href="#dash"/><text class="n" x="6" y="1.8">Cali__Cali4g01147</text></g>
<g id="L72" transform="translate(651,572.4)"><text class="b" x="2" y="-.8">0</text><use href="#dash"/><text class="n" x="6" y="1.8">Cali__Cali4g01148</text></g>
<g id="L73" transform="translate(651,580.2)"><text class="b" x="2" y="-.8">0</text><use href="#dash"/><text class="n" x="6" y="1.8">Cali__Cali4g01145</text></g>
<g id="L74" transform="translate(651,588.1)"><text class="b" x="2" y="-.8">0</text><use href="#dash"/><text class="n" x="6" y="1.8">Cali__Cali4g01146</text></g>
<g id="L75" transform="translate(680,596)"><text class="b" x="2" y="-.8">0.0368</text><use href="#dash"/><text class="n" x="6" y="1.8">Casa__Casa4g00529</text></g>
<g id="L76" transform="translate(683,603.9)"><text class="b" x="2" y="-.8">1.00E-6</text><use href="#dash"/><text class="n" x="6" y="1.8">Casa__Casa4g00531</text></g>
<g id="L77" transform="translate(746,611.8)"><text class="b" x="2" y="-.8">0.0284</text><use href="#dash"/><text class="n" x="6" y="1.8">Aris__Aris1g00516</text></g>
<g id="L78" transform="translate(751,619.6)"><text class="b" x="2" y="-.8">1.00E-6</text><use href="#dash"/><text class="n" x="6" y="1.8">Armi__Armi1g00505</text></g>
<g id="L79" transform="translate(700,627.5)"><text class="b" x="2" y="-.8">0.0347</text><use href="#dash"/><text class="n" x="6" y="1.8">Aris__Aris1g00511</text></g>
<g id="L80" transform="translate(673,635.4)"><text class="b" x="2" y="-.8">0.0432</text><use href="#dash"/><text class="n" x="6" y="1.8">Ecar__Ecar1g01374</text></g>
<g id="L81" transform="translate(625,643.3)"><text class="b" x="2" y="-.8">0.0326</text><use href="#dash"/><text class="n" x="6" y="1.8">Sain__Sain4g02507</text></g>
<g id="L82" transform="translate(686,651.2)"><text class="b" x="2" y="-.8">0.0337</text><use href="#dash"/><text class="n" x="6" y="1.8">Laca__Laca4g04156</text></g>
<g id="L83" transform="translate(691,659)"><text class="b" x="2" y="-.8">1.00E-6</text><use href="#dash"/><text class="n" x="6" y="1.8">Lasa__Lasa4g00852</text></g>
<g id="L84" transform="translate(830,666.9)"><text class="b" x="2" y="-.8">0.0326</text><use href="#dash"/><text class="n" x="6" y="1.8">Tamo__Tamo6g02430</text></g>
<g id="L85" transform="translate(870,674.8)"><text class="b" x="2" y="-.8">1.00E-6</text><use href="#dash"/><text class="n" x="6" y="1.8">Tako__Tako5g01803</text></g>
<g id="L86" transform="translate(870,682.7)"><text class="b" x="2" y="-.8">1.00E-6</text><use href="#dash"/><text class="n" x="6" y="1.8">Tako__Tako5g01807</text></g>
<g id="L87" transform="translate(733,690.6)"><text class="b" x="2" y="-.8">1.00E-6</text><use href="#dash"/><text class="n" x="6" y="1.8">Eicn__Eicn4g02243</text></g>
<g id="L88" transform="translate(733,698.4)"><text class="b" x="2" y="-.8">1.00E-6</text><use href="#dash"/><text class="n" x="6" y="1.8">Eicn__Eicn6g00257</text></g>
<g id="L89" transform="translate(723,706.3)"><text class="b" x="2" y="-.8">0.0653</text><use href="#dash"/><text class="n" x="6" y="1.8">Fry__Fry1g03858</text></g>
<g id="L90" transform="translate(722,714.2)"><text class="b" x="2" y="-.8">0.0642</text><use href="#dash"/><text class="n" x="6" y="1.8">Fin__Fin14g00078</text></g>
<g id="L91" transform="translate(743,722.1)"><text class="b" x="2" y="-.8">0.102</text><use href="#dash"/><text class="n" x="6" y="1.8">Sesq__Sesq1000041g00059</text></g>
<g id="L92" transform="translate(735,730)"><text class="b" x="2" y="-.8">0.0326</text><use href="#dash"/><text class="n" x="6" y="1.8">Scae__Scae1000001g00052</text></g>
<g id="L93" transform="translate(781,737.8)"><text class="b" x="2" y="-.8">0</text><use href="#dash"/><text class="n" x="6" y="1.8">Ecan__Ecan1g00059</text></g>
<g id="L94" transform="translate(781,745.7)"><text class="b" x="2" y="-.8">0</text><use href="#dash"/><text class="n" x="6" y="1.8">Ecan__Ecan1g00060</text></g>
<g id="L95" transform="translate(770,753.6)"><text class="b" x="2" y="-.8">0.0316</text><use href="#dash"/><text class="n" x="6" y="1.8">Enbr__Enbr1g00294</text></g>
<g id="L96" transform="translate(795,761.5)"><text class="b" x="2" y="-.8">0.0758</text><use href="#dash"/><text class="n" x="6" y="1.8">Desu__Desu1000006g00082</text></g>
<g id="L97" transform="translate(830,769.4)"><text class="b" x="2" y="-.8">0.0768</text><use href="#dash"/><text class="n" x="6" y="1.8">Mimi__Mimi4g01154</text></g>
<g id="L98" transform="translate(838,777.2)"><text class="b" x="2" y="-.8">0.0853</text><use href="#dash"/><text class="n" x="6" y="1.8">Stre__Stre4g01175</text></g>
<g id="L99" transform="translate(767,785.1)"><text class="b" x="2" y="-.8">0.0400</text><use href="#dash"/><text class="n" x="6" y="1.8">Smso__Smso1g00075</text></g>
<g id="L100" transform="translate(766,793)"><text class="b" x="2" y="-.8">0.0389</text><use href="#dash"/><text class="n" x="6" y="1.8">Smso__Smso1g00085</text></g>
<g id="L101" transform="translate(839,800.9)"><text class="b" x="2" y="-.8">0</text><use href="#dash"/><text class="n" x="6" y="1.8">Helu__Helu2g01362</text></g>
<g id="L102" transform="translate(839,808.8)"><text class="b" x="2" y="-.8">0</text><use href="#dash"/><text class="n" x="6" y="1.8">Helu__Helu2g01361</text></g>
<g id="L103" transform="translate(839,816.6)"><text class="b" x="2" y="-.8">0</text><use href="#dash"/><text class="n" x="6" y="1.8">Helu__Helu2g01174</text></g>
<g id="L104" transform="translate(862,824.5)"><text class="b" x="2" y="-.8">0.0411</text><use href="#dash"/><text class="n" x="6" y="1.8">Hean__Hean8g01215</text></g>
<g id="L105" transform="translate(877,832.4)"><text class="b" x="2" y="-.8">0.0568</text><use href="#dash"/><text class="n" x="6" y="1.8">Helu__Helu4g01089</text></g>
<g id="L106" transform="translate(827,840.3)"><text class="b" x="2" y="-.8">0.0368</text><use href="#dash"/><text class="n" x="6" y="1.8">Amar__Amar8877g00003</text></g>
<g id="L107" transform="translate(830,848.2)"><text class="b" x="2" y="-.8">1.00E-6</text><use href="#dash"/><text class="n" x="6" y="1.8">Amir__Amir8g00428</text></g>
<g id="L108" transform="translate(830,856)"><text class="b" x="2" y="-.8">1.00E-6</text><use href="#dash"/><text class="n" x="6" y="1.8">Bapi__Bapi1g00325</text></g>
<g id="L109" transform="translate(830,863.9)"><text class="b" x="2" y="-.8">1.00E-6</text><use href="#dash"/><text class="n" x="6" y="1.8">Bapi__Bapi2g00323</text></g>
<g id="L110" transform="translate(820,871.8)"><text class="b" x="2" y="-.8">0.026</text><use href="#dash"/><text class="n" x="6" y="1.8">Cobi__Cobi4g01545</text></g>
<g id="L111" transform="translate(872,879.7)"><text class="b" x="2" y="-.8">1.00E-6</text><use href="#dash"/><text class="n" x="6" y="1.8">Bial__Bial4g01751</text></g>
<g id="L112" transform="translate(872,887.6)"><text class="b" x="2" y="-.8">1.00E-6</text><use href="#dash"/><text class="n" x="6" y="1.8">Bial__Bial2g01888</text></g>
<g id="L113" transform="translate(756,895.4)"><text class="b" x="2" y="-.8">0.0337</text><use href="#dash"/><text class="n" x="6" y="1.8">Fra__Fra4g00835</text></g>
<g id="L114" transform="translate(836,903.3)"><text class="b" x="2" y="-.8">1.00E-6</text><use href="#dash"/><text class="n" x="6" y="1.8">Ebr__Ebr11528g00001</text></g>
<g id="L115" transform="translate(836,911.2)"><text class="b" x="2" y="-.8">1.00E-6</text><use href="#dash"/><text class="n" x="6" y="1.8">Eti__Eti4g00534</text></g>
<g id="L116" transform="translate(831,919.1)"><text class="b" x="2" y="-.8">0.0379</text><use href="#dash"/><text class="n" x="6" y="1.8">Esu__Esu14g00555</text></g>
<g id="L117" transform="translate(913,927)"><text class="b" x="2" y="-.8">1.00E-6</text><use href="#dash"/><text class="n" x="6" y="1.8">Ebr__Ebr10874g00001</text></g>
<g id="L118" transform="translate(943,934.8)"><text class="b" x="2" y="-.8">1.00E-6</text><use href="#dash"/><text class="n" x="6" y="1.8">Eti__Eti1g01516</text></g>
<g id="L119" transform="translate(943,942.7)"><text class="b" x="2" y="-.8">1.00E-6</text><use href="#dash"/><text class="n" x="6" y="1.8">Eti__Eti14578g00002</text></g>
<g id="L120" transform="translate(908,950.6)"><text class="b" x="2" y="-.8">1.00E-6</text><use href="#dash"/><text class="n" x="6" y="1.8">Ebr__Ebr100025g00001</text></g>
<g id="L121" transform="translate(903,958.5)"><text class="b" x="2" y="-.8">0.0316</text><use href="#dash"/><text class="n" x="6" y="1.8">Fra__Fra4g01297</text></g>
</g>
<g id="scale"><text class="n" x="16" y="974">0.05</text></g>
</svg>
